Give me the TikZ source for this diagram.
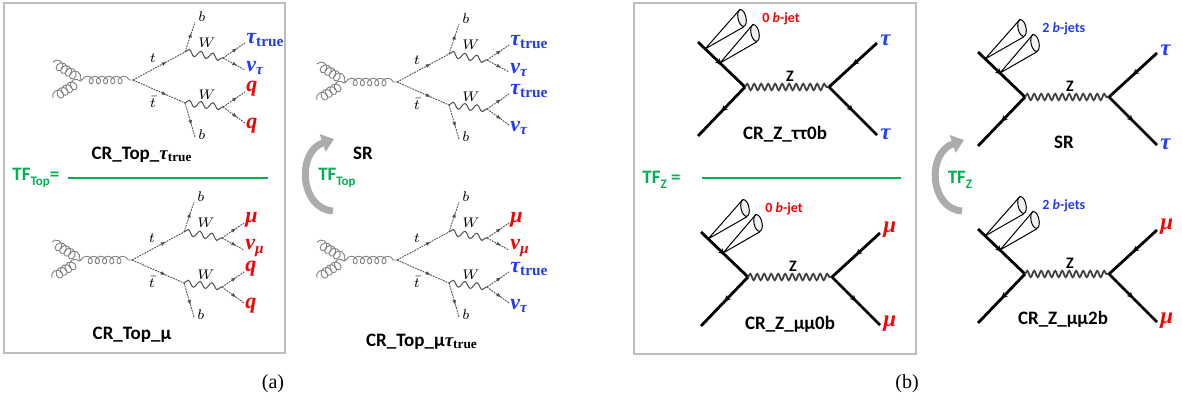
\documentclass[tikz,border=0pt]{standalone}
\usepackage{amsmath}
\usepackage[no-math]{fontspec}
\setmainfont{Carlito}
\newfontfamily\capfont{Liberation Serif}
\newfontfamily\pfont{Liberation Serif}
\usetikzlibrary{decorations.pathmorphing,decorations.markings,arrows.meta,shapes.geometric}

\definecolor{taublue}{RGB}{35,60,250}
\definecolor{mured}{RGB}{250,0,0}
\definecolor{tfgreen}{RGB}{0,176,80}
\definecolor{boxgray}{RGB}{190,190,190}
\definecolor{arrgray}{RGB}{172,172,172}
\definecolor{feyngray}{RGB}{80,80,80}

\newcommand{\ptau}{{\pfont\bfseries\itshape τ\textsubscript{\upshape true}}}
\newcommand{\tauT}{\textcolor{taublue}{\ptau}}
\newcommand{\nuT}{\textcolor{taublue}{\pfont\bfseries\itshape ν\textsubscript{τ}}}
\newcommand{\qR}{\textcolor{mured}{\pfont\bfseries\itshape q}}
\newcommand{\muR}{\textcolor{mured}{\pfont\bfseries\itshape μ}}
\newcommand{\numuR}{\textcolor{mured}{\pfont\bfseries\itshape ν\textsubscript{μ}}}
\newcommand{\tauB}{\textcolor{taublue}{\pfont\bfseries\itshape τ}}
\newcommand{\jetO}{\textcolor{mured}{0 \textit{b}-jet}}
\newcommand{\jetT}{\textcolor{taublue}{2 \textit{b}-jets}}
\newcommand{\tfsub}[1]{\raisebox{-2.5pt}{\fontsize{6.5}{7}\selectfont #1}}

\tikzstyle{panel}=[draw=boxgray, line width=1pt]
\tikzstyle{fer}=[feyngray, line width=0.45pt, dash pattern=on 0.9pt off 0.5pt, postaction={decorate}, decoration={markings, mark=at position 0.65 with {\arrow{Latex[length=2.5pt,width=2pt]}}}]
\tikzstyle{glu}=[gray, line width=0.45pt, decorate, decoration={coil, aspect=0.9, segment length=2.6pt, amplitude=2.4pt}]
\tikzstyle{gluc}=[gray, line width=0.45pt, decorate, decoration={coil, aspect=1, segment length=3.6pt, amplitude=1.9pt}]
\tikzstyle{wbos}=[feyngray, line width=0.5pt, decorate, decoration={snake, segment length=6pt, amplitude=1.6pt}]
\tikzstyle{zbos}=[black!75, line width=0.9pt, decorate, decoration={snake, segment length=3.5pt, amplitude=1.6pt}]
\tikzstyle{zfer}=[black, line width=1.4pt, postaction={decorate}, decoration={markings, mark=at position 0.5 with {\arrow{Stealth[length=3pt,width=3pt]}}}]
\tikzstyle{jetl}=[black, line width=0.5pt]
\tikzstyle{jetcap}=[ellipse, draw, line width=0.5pt, fill=gray!12, minimum width=4pt, minimum height=8.5pt, inner sep=0pt, rotate=12]
\tikzstyle{ttl}=[font=\fontsize{9.5}{11}\selectfont\bfseries, inner sep=0pt]
\tikzstyle{tfl}=[text=tfgreen, font=\fontsize{9.5}{11}\selectfont\bfseries, inner sep=0pt]
\tikzstyle{tfline}=[draw=tfgreen, line width=1.2pt]
\tikzstyle{sml}=[font=\fontsize{7}{8}\selectfont, inner sep=0pt]
\tikzstyle{fsl}=[font=\fontsize{11}{13}\selectfont, inner sep=0pt, anchor=west]
\tikzstyle{lepl}=[font=\fontsize{11.5}{13}\selectfont, inner sep=0pt, anchor=west]
\tikzstyle{zlab}=[font=\fontsize{8}{9}\selectfont\bfseries, inner sep=0pt]
\tikzstyle{jetlab}=[font=\fontsize{7}{8}\selectfont\bfseries, inner sep=0pt, anchor=west]
\tikzstyle{garrow}=[arrgray, line width=3.5pt, -{Triangle[length=6pt,width=9pt]}]
\tikzstyle{capl}=[font=\fontsize{10}{12}\selectfont\capfont, inner sep=0pt]

\begin{document}
\begin{tikzpicture}[x=0.5pt,y=-0.5pt]
    \useasboundingbox (0,0) rectangle (1182,403);
    \draw[panel] (4,3) rectangle (285,353);
    \draw[panel] (634,3) rectangle (916,354);
    %% t tbar diagrams
    \foreach \vx/\vy/\n/\fa/\fb/\fc/\fd in {133/80/ta/\tauT/\nuT/\qR/\qR, 132/260/tb/\muR/\numuR/\qR/\qR, 397/82/tc/\tauT/\nuT/\tauT/\nuT, 397/260/td/\muR/\numuR/\tauT/\nuT}{
        \begin{scope}[shift={(\vx,\vy)}]
            \coordinate (\n-v) at (0,0);
            \coordinate (\n-g1) at (-80,-18);
            \coordinate (\n-g2) at (-80,18);
            \coordinate (\n-gj) at (-51,0);
            \coordinate (\n-t) at (52,-28);
            \coordinate (\n-tb) at (52,23);
            \coordinate (\n-b1) at (62,-58);
            \coordinate (\n-w1) at (90,-22);
            \coordinate (\n-f1) at (112,-37);
            \coordinate (\n-f2) at (112,-10);
            \coordinate (\n-b2) at (62,57);
            \coordinate (\n-w2) at (90,27);
            \coordinate (\n-f3) at (112,12);
            \coordinate (\n-f4) at (112,43);
            \draw[glu] (\n-g1) -- (\n-gj);
            \draw[glu] (\n-g2) -- (\n-gj);
            \draw[gluc] (\n-gj) -- (\n-v);
            \draw[fer] (\n-v) -- (\n-t);
            \draw[fer] (\n-v) -- (\n-tb);
            \draw[fer] (\n-t) -- (\n-b1);
            \draw[wbos] (\n-t) -- (\n-w1);
            \draw[fer] (\n-w1) -- (\n-f1);
            \draw[fer] (\n-w1) -- (\n-f2);
            \draw[fer] (\n-tb) -- (\n-b2);
            \draw[wbos] (\n-tb) -- (\n-w2);
            \draw[fer] (\n-w2) -- (\n-f3);
            \draw[fer] (\n-w2) -- (\n-f4);
            \node[sml] (\n-tl) at (20,-22) {$t$};
            \node[sml] (\n-tbl) at (20,22) {$\bar{t}$};
            \node[sml] (\n-b1l) at (69,-63) {$b$};
            \node[sml] (\n-b2l) at (69,55) {$b$};
            \node[sml] (\n-w1l) at (74,-37) {$W$};
            \node[sml] (\n-w2l) at (74,15) {$W$};
            \node[fsl] (\n-f1l) at (113,-40) {\fa};
            \node[fsl] (\n-f2l) at (113,-12) {\fb};
            \node[fsl] (\n-f3l) at (113,9) {\fc};
            \node[fsl] (\n-f4l) at (113,46) {\fd};
        \end{scope}
    }
    \node[ttl] (ttla) at (142,155) {CR\_Top\_\ptau};
    \node[ttl] (ttlb) at (132,335) {CR\_Top\_μ};
    \node[ttl] (ttlc) at (363,153) {SR};
    \node[ttl] (ttld) at (422,342) {CR\_Top\_μ\ptau};
    %% Z diagrams
    \foreach \vx/\vy/\n/\lep/\jet in {745/87/za/\tauB/\jetO, 748/277/zb/\muR/\jetO, 1025/97/zc/\tauB/\jetT, 1025/274/zd/\muR/\jetT}{
        \begin{scope}[shift={(\vx,\vy)}]
            \coordinate (\n-v) at (0,0);
            \coordinate (\n-ul) at (-47,-45);
            \coordinate (\n-ll) at (-47,49);
            \coordinate (\n-ze) at (84,0);
            \coordinate (\n-ur) at (132,-44);
            \coordinate (\n-lr) at (132,48);
            \coordinate (\n-a1) at (-40,-38);
            \coordinate (\n-a2) at (-25,-24);
            \node[jetcap] (\n-j1) at (-3,-69) {};
            \node[jetcap] (\n-j2) at (10,-54) {};
            \draw[zfer] (\n-ul) -- (\n-v);
            \draw[zfer] (\n-v) -- (\n-ll);
            \draw[zbos] (\n-v) -- (\n-ze);
            \draw[zfer] (\n-ur) -- (\n-ze);
            \draw[zfer] (\n-ze) -- (\n-lr);
            \draw[jetl] (\n-a1) -- (\n-j1.north) (\n-a1) -- (\n-j1.south);
            \draw[jetl] (\n-a2) -- (\n-j2.north) (\n-a2) -- (\n-j2.south);
            \node[zlab] (\n-zl) at (45,-11) {Z};
            \node[lepl] (\n-l1) at (135,-47) {\lep};
            \node[lepl] (\n-l2) at (135,47) {\lep};
            \node[jetlab] (\n-jl) at (17,-68) {\jet};
        \end{scope}
    }
    \node[ttl] (ttle) at (785,134) {CR\_Z\_ττ0b};
    \node[ttl] (ttlf) at (790,324) {CR\_Z\_μμ0b};
    \node[ttl] (ttlg) at (1064,142) {SR};
    \node[ttl] (ttlh) at (1063,319) {CR\_Z\_μμ2b};
    %% transfer factors
    \node[tfl, anchor=west] (tfa) at (12,178) {TF\tfsub{Top}=};
    \coordinate (fa-l) at (68,178);
    \coordinate (fa-r) at (268,178);
    \draw[tfline] (fa-l) -- (fa-r);
    \node[tfl, anchor=west] (tfb) at (642,180) {TF\tfsub{Z} =};
    \coordinate (fb-l) at (702,178);
    \coordinate (fb-r) at (901,178);
    \draw[tfline] (fb-l) -- (fb-r);
    \coordinate (arra-s) at (333,211);
    \coordinate (arra-e) at (334,139);
    \draw[garrow] (arra-s) .. controls (300,209) and (296,152) .. (arra-e);
    \node[tfl] (tfa2) at (337,178) {TF\tfsub{Top}};
    \coordinate (arrb-s) at (962,211);
    \coordinate (arrb-e) at (964,140);
    \draw[garrow] (arrb-s) .. controls (930,209) and (926,153) .. (arrb-e);
    \node[tfl] (tfb2) at (960,180) {TF\tfsub{Z}};
    %% captions
    \node[capl] (capa) at (273,384) {(a)};
    \node[capl] (capb) at (907,384) {(b)};
\end{tikzpicture}
\end{document}
